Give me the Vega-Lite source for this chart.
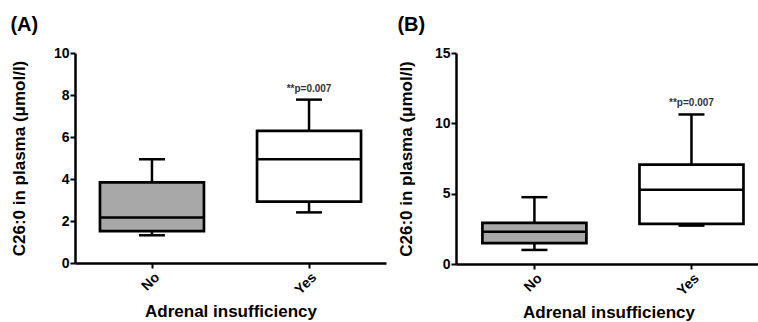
{
  "$schema": "https://vega.github.io/schema/vega-lite/v6.json",
  "background": "white",
  "padding": {"left": 10, "top": 15, "right": 0, "bottom": 0},
  "config": {
    "view": {"stroke": null},
    "font": "Liberation Sans",
    "axis": {
      "grid": false,
      "domainColor": "black",
      "domainWidth": 2.5,
      "tickColor": "black",
      "tickWidth": 2,
      "tickSize": 5,
      "labelColor": "black",
      "labelFont": "Liberation Sans",
      "labelFontWeight": "bold",
      "labelFontSize": 14,
      "titleFont": "Liberation Sans",
      "titleFontWeight": "bold",
      "titleFontSize": 17,
      "titleColor": "black"
    },
    "title": {"font": "Liberation Sans", "fontSize": 20, "fontWeight": "bold", "anchor": "start", "color": "black", "frame": "bounds"},
    "concat": {"spacing": 11}
  },
  "datasets": {
    "a": [
      {"group": "No", "lo": 1.32, "q1": 1.52, "med": 2.17, "q3": 3.84, "hi": 4.94, "note": ""},
      {"group": "Yes", "lo": 2.41, "q1": 2.92, "med": 4.94, "q3": 6.29, "hi": 7.78, "note": "**p=0.007"}
    ],
    "b": [
      {"group": "No", "lo": 1.0, "q1": 1.49, "med": 2.3, "q3": 2.92, "hi": 4.75, "note": ""},
      {"group": "Yes", "lo": 2.73, "q1": 2.85, "med": 5.27, "q3": 7.07, "hi": 10.63, "note": "**p=0.007"}
    ]
  },
  "hconcat": [
    {
      "title": {"text": "(A)", "offset": 11},
      "width": 311,
      "height": 210,
      "data": {"name": "a"},
      "encoding": {
        "x": {
          "field": "group",
          "type": "nominal",
          "sort": ["No", "Yes"],
          "scale": {"type": "point", "padding": 0.49, "align": 0.5},
          "axis": {"title": "Adrenal insufficiency", "labelAngle": -45, "labelPadding": 2, "titlePadding": 7}
        }
      },
      "layer": [
        {
          "mark": {"type": "rule", "color": "black", "strokeWidth": 2.5},
          "encoding": {
            "y": {"field": "lo", "type": "quantitative", "scale": {"domain": [0, 10], "nice": false},
              "axis": {"values": [0, 2, 4, 6, 8, 10], "title": "C26:0 in plasma (μmol/l)", "titlePadding": 25, "labelPadding": 1}},
            "y2": {"field": "q1"}
          }
        },
        {
          "mark": {"type": "rule", "color": "black", "strokeWidth": 2.5},
          "encoding": {"y": {"field": "q3", "type": "quantitative"}, "y2": {"field": "hi"}}
        },
        {
          "mark": {"type": "bar", "size": 104, "stroke": "black", "strokeWidth": 2.7},
          "encoding": {
            "y": {"field": "q1", "type": "quantitative"},
            "y2": {"field": "q3"},
            "fill": {"field": "group", "type": "nominal", "scale": {"domain": ["No", "Yes"], "range": ["#a8a8a8", "#ffffff"]}, "legend": null}
          }
        },
        {
          "mark": {"type": "tick", "size": 104, "thickness": 2.5, "color": "black", "opacity": 1},
          "encoding": {"y": {"field": "med", "type": "quantitative"}}
        },
        {
          "mark": {"type": "tick", "size": 26, "thickness": 2.5, "color": "black", "opacity": 1},
          "encoding": {"y": {"field": "hi", "type": "quantitative"}}
        },
        {
          "mark": {"type": "tick", "size": 26, "thickness": 2.5, "color": "black", "opacity": 1},
          "encoding": {"y": {"field": "lo", "type": "quantitative"}}
        },
        {
          "mark": {"type": "text", "fontSize": 10, "fontWeight": "bold", "color": "#333333", "baseline": "bottom", "dy": -6},
          "encoding": {"y": {"field": "hi", "type": "quantitative"}, "text": {"field": "note"}}
        }
      ]
    },
    {
      "title": {"text": "(B)", "offset": 11},
      "width": 305,
      "height": 211,
      "data": {"name": "b"},
      "encoding": {
        "x": {
          "field": "group",
          "type": "nominal",
          "sort": ["No", "Yes"],
          "scale": {"type": "point", "padding": 0.471, "align": 0.53},
          "axis": {"title": "Adrenal insufficiency", "labelAngle": -45, "labelPadding": 2, "titlePadding": 7}
        }
      },
      "layer": [
        {
          "mark": {"type": "rule", "color": "black", "strokeWidth": 2.5},
          "encoding": {
            "y": {"field": "lo", "type": "quantitative", "scale": {"domain": [0, 15], "nice": false},
              "axis": {"values": [0, 5, 10, 15], "title": "C26:0 in plasma (μmol/l)", "titlePadding": 19, "labelPadding": 1}},
            "y2": {"field": "q1"}
          }
        },
        {
          "mark": {"type": "rule", "color": "black", "strokeWidth": 2.5},
          "encoding": {"y": {"field": "q3", "type": "quantitative"}, "y2": {"field": "hi"}}
        },
        {
          "mark": {"type": "bar", "size": 104, "stroke": "black", "strokeWidth": 2.7},
          "encoding": {
            "y": {"field": "q1", "type": "quantitative"},
            "y2": {"field": "q3"},
            "fill": {"field": "group", "type": "nominal", "scale": {"domain": ["No", "Yes"], "range": ["#a8a8a8", "#ffffff"]}, "legend": null}
          }
        },
        {
          "mark": {"type": "tick", "size": 104, "thickness": 2.5, "color": "black", "opacity": 1},
          "encoding": {"y": {"field": "med", "type": "quantitative"}}
        },
        {
          "mark": {"type": "tick", "size": 26, "thickness": 2.5, "color": "black", "opacity": 1},
          "encoding": {"y": {"field": "hi", "type": "quantitative"}}
        },
        {
          "mark": {"type": "tick", "size": 26, "thickness": 2.5, "color": "black", "opacity": 1},
          "encoding": {"y": {"field": "lo", "type": "quantitative"}}
        },
        {
          "mark": {"type": "text", "fontSize": 10, "fontWeight": "bold", "color": "#333333", "baseline": "bottom", "dy": -6},
          "encoding": {"y": {"field": "hi", "type": "quantitative"}, "text": {"field": "note"}}
        }
      ]
    }
  ]
}
